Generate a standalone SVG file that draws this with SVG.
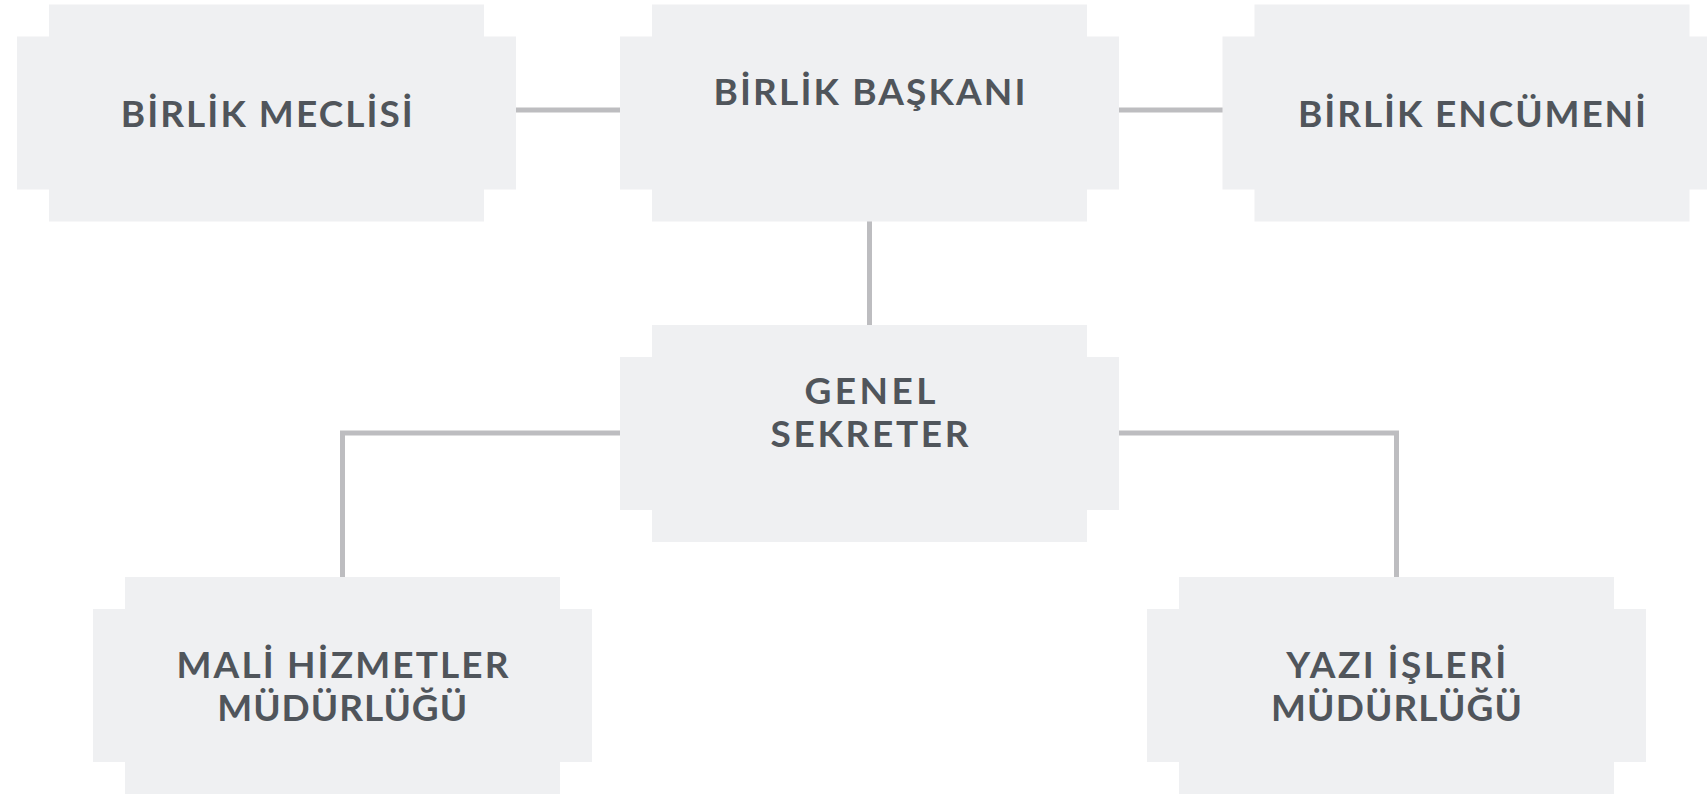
<svg xmlns="http://www.w3.org/2000/svg" width="1707" height="795" viewBox="0 0 1707 795">
<style>
.box{fill:#eff0f2}
.t{font-family:Lato,"Open Sans","DejaVu Sans",sans-serif;font-weight:700;font-size:37px;fill:#50555b;text-anchor:middle}
.c{stroke:#bdbdc0;stroke-width:5;fill:none}
</style>
<defs>
<g id="shape">
<rect class="box" x="32" y="0" width="435" height="217"/>
<rect class="box" x="0" y="32" width="499" height="153"/>
</g>
</defs>
<g id="connectors">
<line class="c" x1="516" y1="110" x2="620" y2="110"/>
<line class="c" x1="1118" y1="110" x2="1223" y2="110"/>
<line class="c" x1="869.5" y1="221" x2="869.5" y2="325"/>
<polyline class="c" points="620,433 342.5,433 342.5,577"/>
<polyline class="c" points="1118,433 1396.5,433 1396.5,577"/>
</g>
<g id="node-meclis">
<use href="#shape" x="17" y="4.5"/>
<text class="t" x="266.8" y="126.7" textLength="292" lengthAdjust="spacing">BİRLİK MECLİSİ</text>
</g>
<g id="node-baskan">
<use href="#shape" x="620" y="4.5"/>
<text class="t" x="869.5" y="105" textLength="312" lengthAdjust="spacing">BİRLİK BAŞKANI</text>
</g>
<g id="node-encumen">
<use href="#shape" x="1222.5" y="4.5"/>
<text class="t" x="1472" y="126.7" textLength="348" lengthAdjust="spacing">BİRLİK ENCÜMENİ</text>
</g>
<g id="node-sekreter">
<use href="#shape" x="620" y="325"/>
<text class="t" x="870" y="404" textLength="131" lengthAdjust="spacing">GENEL</text>
<text class="t" x="869.5" y="446.7" textLength="198" lengthAdjust="spacing">SEKRETER</text>
</g>
<g id="node-mali">
<use href="#shape" x="93" y="577"/>
<text class="t" x="342.5" y="677.7" textLength="332" lengthAdjust="spacing">MALİ HİZMETLER</text>
<text class="t" x="342.2" y="721" textLength="250" lengthAdjust="spacing">MÜDÜRLÜĞÜ</text>
</g>
<g id="node-yazi">
<use href="#shape" x="1147" y="577"/>
<text class="t" x="1396.2" y="677.7" textLength="220" lengthAdjust="spacing">YAZI İŞLERİ</text>
<text class="t" x="1396.5" y="721" textLength="251" lengthAdjust="spacing">MÜDÜRLÜĞÜ</text>
</g>
</svg>
